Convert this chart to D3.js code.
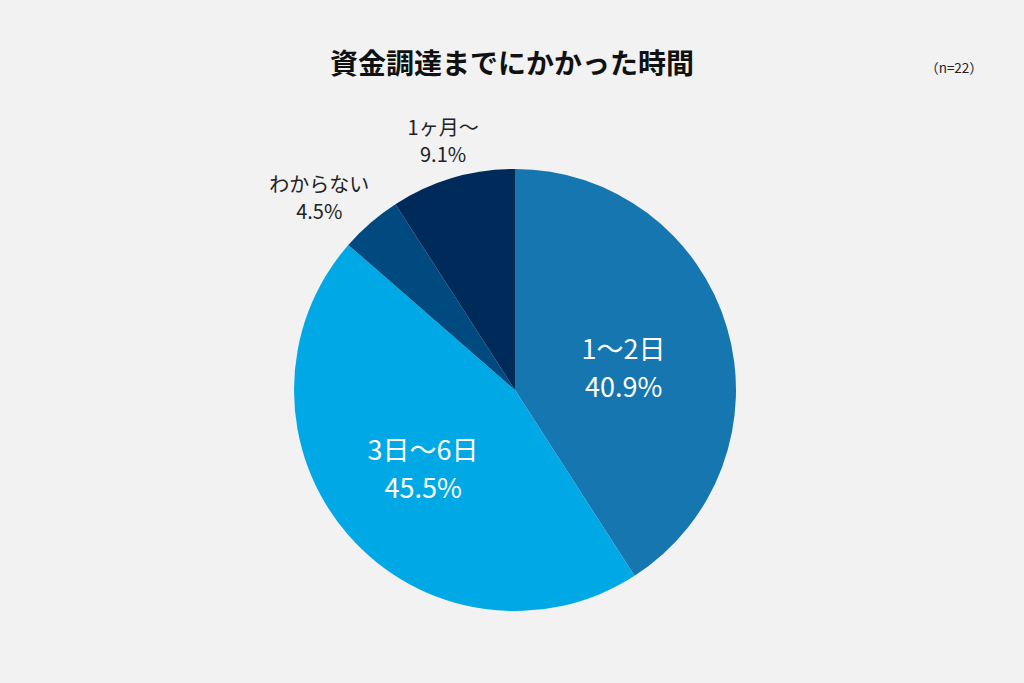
<!DOCTYPE html>
<html><head><meta charset="utf-8">
<script src="https://cdn.jsdelivr.net/npm/d3@7"></script>
<style>
html,body{margin:0;padding:0;background:#f2f2f2;}
svg{display:block;font-family:"Noto Sans CJK JP","Noto Sans",sans-serif;}
</style></head>
<body><svg id="chart" width="1024" height="683"></svg>
<script>
const categories = ["1〜2日", "3日〜6日", "わからない", "1ヶ月〜"];
const values = [40.9, 45.5, 4.5, 9.1];
const colors = ["#1676b0", "#00a9e6", "#004a80", "#002a5a"];
const title = "資金調達までにかかった時間";
const note = "（n=22）";

const data = categories.map((c, i) => ({cat: c, value: values[i], color: colors[i]}));
const svg = d3.select("#chart");
const cx = 515, cy = 390, r = 221;

svg.append("text").attr("x", 512).attr("y", 74).attr("text-anchor", "middle")
  .attr("font-size", 28).attr("font-weight", 700).attr("fill", "#111").text(title);
svg.append("text").attr("x", 954).attr("y", 73).attr("text-anchor", "middle")
  .attr("font-size", 13.5).attr("fill", "#222").text(note);

const pie = d3.pie().sort(null).value(d => d.value);
const arcs = pie(data);
const arc = d3.arc().innerRadius(0).outerRadius(r);
const g = svg.append("g").attr("transform", `translate(${cx},${cy})`);
g.selectAll("path").data(arcs).join("path")
  .attr("d", arc).attr("fill", d => d.data.color);

// label positions: inside for big slices, outside for small ones
const inner = d3.arc().innerRadius(r * 0.55).outerRadius(r * 0.55);
const outer = d3.arc().innerRadius(r * 1.25).outerRadius(r * 1.25);
const nudge = [[-8, 13], [0, 0], [-15, 17], [6, 17]];
arcs.forEach((a, i) => {
  const big = a.data.value > 20;
  let [x, y] = big ? inner.centroid(a) : outer.centroid(a);
  x += nudge[i][0]; y += nudge[i][1];
  const t = g.append("text").attr("text-anchor", "middle")
    .attr("fill", big ? "#fff" : "#222")
    .attr("font-size", big ? 27 : 20);
  const lh = big ? 38 : 27;
  t.append("tspan").attr("x", x).attr("y", y - lh / 2 + (big ? 9 : 7)).text(a.data.cat);
  t.append("tspan").attr("x", x).attr("y", y + lh / 2 + (big ? 9 : 7)).text(a.data.value.toFixed(1) + "%");
});
</script></body></html>
